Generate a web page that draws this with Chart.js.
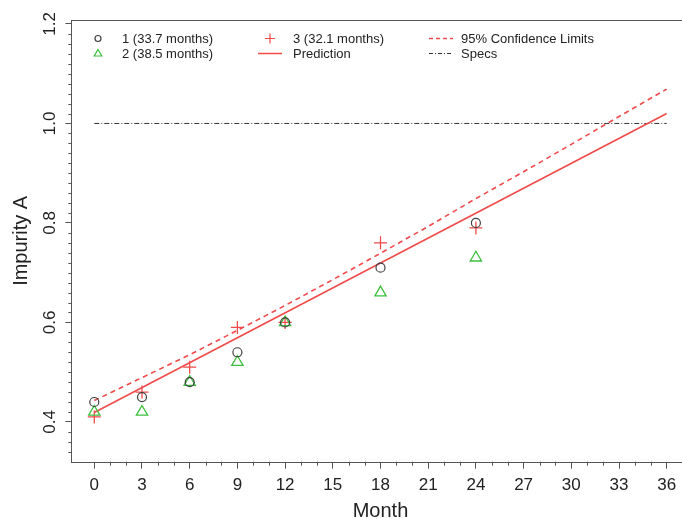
<!DOCTYPE html>
<html>
<head>
<meta charset="utf-8">
<script src="https://cdn.jsdelivr.net/npm/chart.js@4.4.0/dist/chart.umd.min.js"></script>
<style>
  html, body { margin: 0; padding: 0; background: #fff; overflow: hidden; }
  #wrap { position: relative; width: 700px; height: 519px; }
</style>
</head>
<body>
<div id="wrap"><canvas id="chart"></canvas></div>
<script>
// observed impurity per batch
const months = [0, 3, 6, 9, 12, 18, 24];
const batch1 = [0.44, 0.45, 0.48, 0.54, 0.60, 0.71, 0.80];
const batch2 = [0.42, 0.42, 0.48, 0.52, 0.60, 0.66, 0.73];
const batch3 = [0.41, 0.46, 0.51, 0.59, 0.60, 0.76, 0.79];

// fitted line and upper 95% limit
const predMonths = [0, 36];
const prediction = [0.419, 1.020];
const limitMonths = [0, 3, 6, 9, 12, 15, 18, 21, 24, 27, 30, 33, 36];
const upperLimit = [0.443, 0.489, 0.535, 0.584, 0.634, 0.686, 0.739, 0.793, 0.849, 0.903, 0.958, 1.014, 1.069];

const specMonths = [0, 36];
const specLimit = [1.0, 1.0];

const seriesNames = ['1 (33.7 months)', '2 (38.5 months)', '3 (32.1 months)', 'Prediction', '95% Confidence Limits', 'Specs'];
const yTickLabels = [0.4, 0.6, 0.8, 1.0, 1.2];

const RED = '#f04a4a';
const GREEN = '#3cbf3c';
const DARK = '#404040';
const AXIS = '#555';
const FONT = "'Liberation Sans', Arial, sans-serif";

const pairs = (xs, ys) => xs.map((x, i) => ({ x: x, y: ys[i] }));

// frame, minor ticks, rotated y labels
const framePlugin = {
    id: 'frame',
    afterDraw(chart) {
        const ctx = chart.ctx;
        const a = chart.chartArea;
        const xs = chart.scales.x;
        const ys = chart.scales.y;
        ctx.save();
        ctx.strokeStyle = AXIS;
        ctx.lineWidth = 1;
        ctx.strokeRect(Math.round(a.left) + 0.5, Math.round(a.top) + 0.5,
            Math.round(a.right - a.left), Math.round(a.bottom - a.top));

        ctx.beginPath();
        for (let m = 0; m <= 37; m++) {
            if (m % 3 === 0) continue;
            const px = Math.round(xs.getPixelForValue(m)) + 0.5;
            ctx.moveTo(px, a.bottom);
            ctx.lineTo(px, a.bottom + 4);
        }
        for (let k = 17; k <= 60; k++) {
            if (k % 10 === 0) continue;
            const py = Math.round(ys.getPixelForValue(k * 0.02)) + 0.5;
            if (py > a.bottom || py < a.top) continue;
            ctx.moveTo(a.left - 3, py);
            ctx.lineTo(a.left, py);
        }
        ctx.stroke();

        ctx.fillStyle = '#222';
        ctx.font = '17px ' + FONT;
        ctx.textAlign = 'center';
        ctx.textBaseline = 'middle';
        yTickLabels.forEach(v => {
            ctx.save();
            ctx.translate(50, ys.getPixelForValue(v));
            ctx.rotate(-Math.PI / 2);
            ctx.fillText(v.toFixed(1), 0, 0);
            ctx.restore();
        });
        ctx.restore();
    }
};

// three-column legend inside the plot
const legendPlugin = {
    id: 'boxLegend',
    afterDraw(chart) {
        const ctx = chart.ctx;
        const rows = [38.5, 53.5];
        const cols = [{ sym: 98, txt: 122 }, { sym: 270, txt: 293 }, { sym: 441, txt: 461 }];
        ctx.save();
        ctx.font = '13px ' + FONT;
        ctx.textAlign = 'left';
        ctx.textBaseline = 'middle';
        ctx.fillStyle = '#222';
        seriesNames.forEach((name, i) => {
            const c = cols[Math.floor(i / 2)];
            const y = rows[i % 2];
            ctx.fillText(name, c.txt, y + 1);
            ctx.beginPath();
            ctx.lineWidth = 1.2;
            if (i === 0) {
                ctx.strokeStyle = DARK;
                ctx.arc(c.sym, y, 3, 0, Math.PI * 2);
            } else if (i === 1) {
                ctx.strokeStyle = GREEN;
                ctx.moveTo(c.sym, y - 4);
                ctx.lineTo(c.sym + 3.8, y + 2.5);
                ctx.lineTo(c.sym - 3.8, y + 2.5);
                ctx.closePath();
            } else if (i === 2) {
                ctx.strokeStyle = RED;
                ctx.moveTo(c.sym - 5, y); ctx.lineTo(c.sym + 5, y);
                ctx.moveTo(c.sym, y - 5); ctx.lineTo(c.sym, y + 5);
            } else {
                ctx.strokeStyle = i === 5 ? '#333' : RED;
                ctx.lineWidth = i === 5 ? 1 : 1.5;
                ctx.setLineDash(i === 4 ? [4, 3] : i === 5 ? [4, 2, 1, 2] : []);
                ctx.moveTo(c.sym - 12, y);
                ctx.lineTo(c.sym + 12, y);
            }
            ctx.stroke();
            ctx.setLineDash([]);
        });
        ctx.restore();
    }
};

new Chart(document.getElementById('chart'), {
    type: 'scatter',
    data: {
        datasets: [
            {
                label: seriesNames[0],
                data: pairs(months, batch1),
                pointStyle: 'circle',
                pointRadius: 4.5,
                borderColor: DARK,
                backgroundColor: 'rgba(0,0,0,0)',
                borderWidth: 1.2
            },
            {
                label: seriesNames[1],
                data: pairs(months, batch2),
                pointStyle: 'triangle',
                pointRadius: 6.5,
                borderColor: GREEN,
                backgroundColor: 'rgba(0,0,0,0)',
                borderWidth: 1.3
            },
            {
                label: seriesNames[2],
                data: pairs(months, batch3),
                pointStyle: 'cross',
                pointRadius: 6.5,
                borderColor: RED,
                backgroundColor: RED,
                borderWidth: 1.3
            },
            {
                label: seriesNames[3],
                data: pairs(predMonths, prediction),
                showLine: true,
                pointRadius: 0,
                borderColor: RED,
                borderWidth: 1.6
            },
            {
                label: seriesNames[4],
                data: pairs(limitMonths, upperLimit),
                showLine: true,
                pointRadius: 0,
                borderColor: RED,
                borderWidth: 1.6,
                borderDash: [5, 4]
            },
            {
                label: seriesNames[5],
                data: pairs(specMonths, specLimit),
                showLine: true,
                pointRadius: 0,
                borderColor: '#333',
                borderWidth: 1,
                borderDash: [5, 2, 1, 2]
            }
        ]
    },
    options: {
        responsive: true,
        maintainAspectRatio: false,
        animation: false,
        layout: { padding: { top: 20, right: 10.4, left: 9, bottom: 0 } },
        plugins: {
            legend: { display: false },
            tooltip: { enabled: false }
        },
        scales: {
            x: {
                type: 'linear',
                min: -1.44,
                max: 37.44,
                border: { display: false },
                grid: { drawOnChartArea: false, color: AXIS, tickLength: 7 },
                ticks: {
                    stepSize: 3,
                    includeBounds: false,
                    autoSkip: false,
                    maxRotation: 0,
                    padding: 6,
                    color: '#222',
                    font: { family: FONT, size: 17 }
                },
                title: {
                    display: true,
                    text: 'Month',
                    color: '#222',
                    font: { family: FONT, size: 20, lineHeight: 0.8 },
                    padding: 0
                },
                afterFit(scale) { scale.height = 57.3; }
            },
            y: {
                type: 'linear',
                min: 0.32,
                max: 1.208,
                border: { display: false },
                grid: { drawOnChartArea: false, color: AXIS, tickLength: 6 },
                ticks: {
                    stepSize: 0.2,
                    includeBounds: false,
                    display: false
                },
                title: {
                    display: true,
                    text: 'Impurity A',
                    color: '#222',
                    font: { family: FONT, size: 20 },
                    padding: 0
                },
                afterFit(scale) { scale.width = 62.4; }
            }
        }
    },
    plugins: [framePlugin, legendPlugin]
});
</script>
</body>
</html>
